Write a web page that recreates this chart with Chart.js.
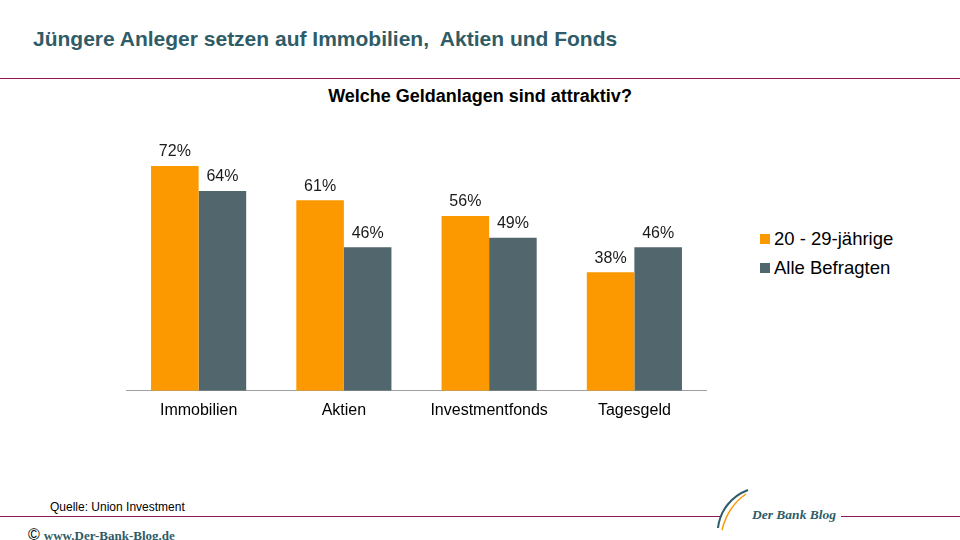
<!DOCTYPE html>
<html>
<head>
<meta charset="utf-8">
<script src="https://cdn.jsdelivr.net/npm/chart.js@4"></script>
<style>
  html, body { margin: 0; padding: 0; background: #fff; }
  #page { position: relative; width: 960px; height: 540px; overflow: hidden; font-family: "Liberation Sans", Arial, sans-serif; }
  .abs { position: absolute; white-space: nowrap; }
  #title { left: 33px; top: 27px; font-family: "Liberation Sans Narrow", "Arial Narrow", "Liberation Sans", sans-serif; font-weight: bold; font-size: 21px; color: #2f5c67; }
  #subtitle { left: 0; width: 960px; text-align: center; top: 86px; font-family: "Liberation Sans Narrow", "Arial Narrow", "Liberation Sans", sans-serif; font-weight: bold; font-size: 18px; color: #000; }
  .rule { position: absolute; height: 1px; background: #8c1a5a; }
  #source { left: 50px; top: 500px; font-family: "Liberation Sans Narrow", "Arial Narrow", "Liberation Sans", sans-serif; font-size: 12px; color: #000; }
  #copy { left: 28px; top: 526px; font-family: "Liberation Serif", "Times New Roman", serif; font-size: 13px; color: #2f5c67; font-weight: bold; }
  #copy span { font-family: "Liberation Sans", sans-serif; font-weight: normal; color: #000; font-size: 16px; margin-right: 4px; }
  #brand { left: 752px; top: 507px; font-family: "Liberation Serif", serif; font-style: italic; font-weight: bold; font-size: 13.5px; color: #2f5c67; }
  #legend { left: 760px; top: 228px; font-size: 18.5px; color: #000; }
  #legend div { height: 29px; line-height: 21px; }
  #legend i { display: inline-block; width: 10px; height: 10px; margin-right: 4px; vertical-align: 1px; }
  #chartbox { position: absolute; left: 126px; top: 141px; width: 581px; height: 281px; }
</style>
</head>
<body>
<div id="page">
  <div id="title" class="abs">Jüngere Anleger setzen auf Immobilien,&nbsp; Aktien und Fonds</div>
  <div class="rule" style="left:0; top:78px; width:960px;"></div>
  <div id="subtitle" class="abs">Welche Geldanlagen sind attraktiv?</div>
  <div id="chartbox"><canvas id="chart"></canvas></div>
  <div id="legend" class="abs"></div>
  <div id="source" class="abs">Quelle: Union Investment</div>
  <div class="rule" style="left:0; top:516px; width:722px;"></div>
  <div class="rule" style="left:841px; top:516px; width:119px;"></div>
  <svg class="abs" style="left:712px; top:488px;" width="40" height="44" viewBox="0 0 40 44">
    <path d="M36 2 C20 8 8 22 6 40" stroke="#2f5c67" stroke-width="2" fill="none"/>
    <path d="M34 6 C22 14 14 26 10 42" stroke="#f99b00" stroke-width="1.5" fill="none"/>
  </svg>
  <div id="brand" class="abs">Der Bank Blog</div>
  <div id="copy" class="abs"><span>©</span>www.Der-Bank-Blog.de</div>
</div>
<script>
const categories = ['Immobilien', 'Aktien', 'Investmentfonds', 'Tagesgeld'];
const seriesNames = ['20 - 29-jährige', 'Alle Befragten'];
const young = [72, 61, 56, 38];
const all = [64, 46, 49, 46];
const seriesColors = ['#fd9900', '#52666d'];

const valueLabels = {
  id: 'valueLabels',
  afterDatasetsDraw(chart) {
    const ctx = chart.ctx;
    ctx.save();
    ctx.font = '16px "Liberation Sans", Arial, sans-serif';
    ctx.fillStyle = '#1a1a1a';
    ctx.textAlign = 'center';
    ctx.textBaseline = 'bottom';
    chart.data.datasets.forEach((ds, i) => {
      chart.getDatasetMeta(i).data.forEach((bar, j) => {
        ctx.fillText(ds.data[j] + '%', bar.x, bar.y - 6);
      });
    });
    ctx.restore();
  }
};

const chart = new Chart(document.getElementById('chart'), {
  type: 'bar',
  data: {
    labels: categories,
    datasets: [
      { label: seriesNames[0], data: young, backgroundColor: seriesColors[0] },
      { label: seriesNames[1], data: all, backgroundColor: seriesColors[1] }
    ]
  },
  options: {
    responsive: true,
    maintainAspectRatio: false,
    animation: false,
    categoryPercentage: 0.655,
    barPercentage: 1.0,
    layout: { padding: 0 },
    scales: {
      x: {
        grid: { display: false },
        border: { color: '#a0a0a0', width: 1 },
        ticks: { color: '#000', padding: 2, font: { size: 16, family: '"Liberation Sans", Arial, sans-serif' } }
      },
      y: {
        display: false,
        min: 0,
        max: 80
      }
    },
    plugins: {
      legend: { display: false },
      tooltip: { enabled: false }
    }
  },
  plugins: [valueLabels]
});

// legend built from the chart's datasets
document.getElementById('legend').innerHTML = chart.data.datasets.map(ds =>
  '<div><i style="background:' + ds.backgroundColor + '"></i>' + ds.label + '</div>').join('');
</script>
</body>
</html>
